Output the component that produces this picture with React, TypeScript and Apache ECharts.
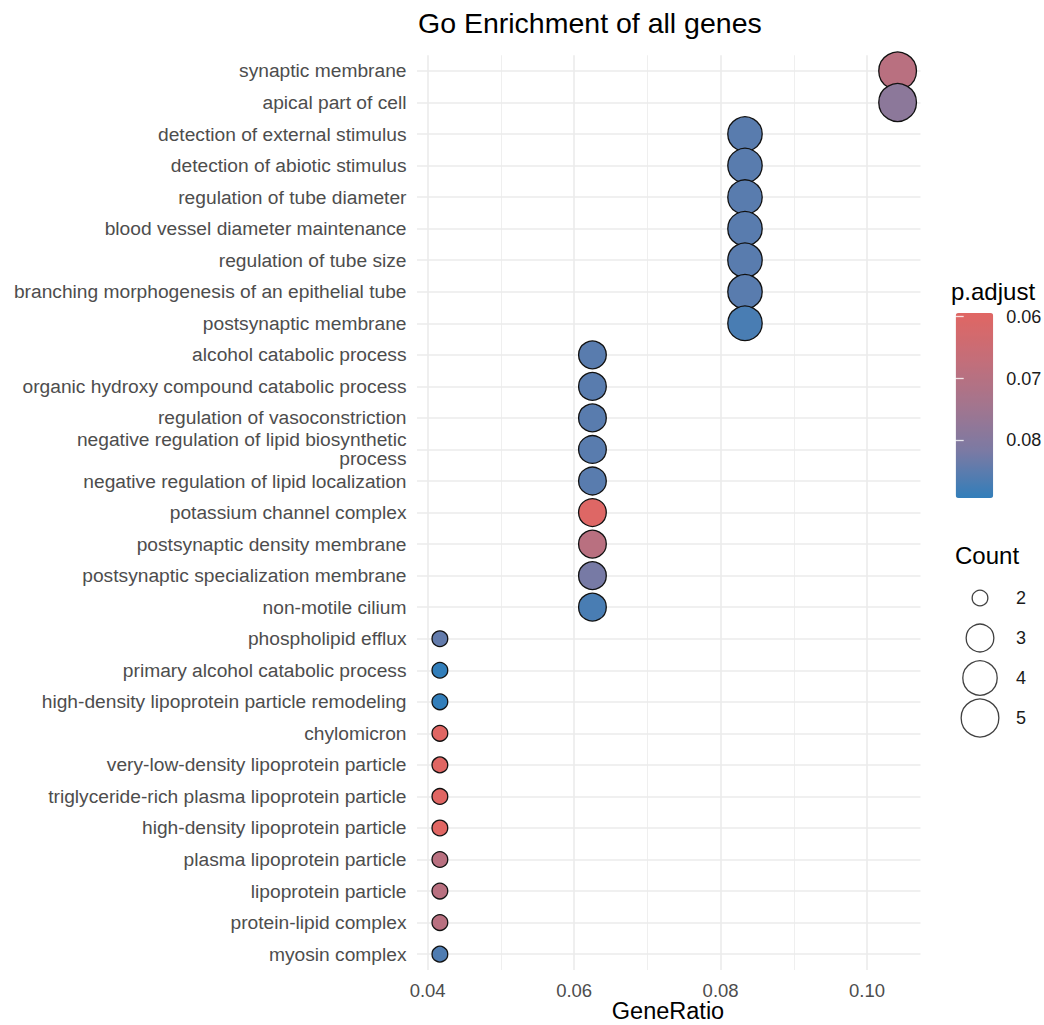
import React, { useEffect, useRef } from 'react';
import * as echarts from 'echarts';

const terms: string[] = [
  'synaptic membrane',
  'apical part of cell',
  'detection of external stimulus',
  'detection of abiotic stimulus',
  'regulation of tube diameter',
  'blood vessel diameter maintenance',
  'regulation of tube size',
  'branching morphogenesis of an epithelial tube',
  'postsynaptic membrane',
  'alcohol catabolic process',
  'organic hydroxy compound catabolic process',
  'regulation of vasoconstriction',
  'negative regulation of lipid biosynthetic\nprocess',
  'negative regulation of lipid localization',
  'potassium channel complex',
  'postsynaptic density membrane',
  'postsynaptic specialization membrane',
  'non-motile cilium',
  'phospholipid efflux',
  'primary alcohol catabolic process',
  'high-density lipoprotein particle remodeling',
  'chylomicron',
  'very-low-density lipoprotein particle',
  'triglyceride-rich plasma lipoprotein particle',
  'high-density lipoprotein particle',
  'plasma lipoprotein particle',
  'lipoprotein particle',
  'protein-lipid complex',
  'myosin complex',
];

const geneRatio: number[] = [
  0.10417, 0.10417,
  0.08333, 0.08333, 0.08333, 0.08333, 0.08333, 0.08333, 0.08333,
  0.0625, 0.0625, 0.0625, 0.0625, 0.0625, 0.0625, 0.0625, 0.0625, 0.0625,
  0.04167, 0.04167, 0.04167, 0.04167, 0.04167, 0.04167, 0.04167, 0.04167, 0.04167, 0.04167, 0.04167,
];

const counts: number[] = [
  5, 5,
  4, 4, 4, 4, 4, 4, 4,
  3, 3, 3, 3, 3, 3, 3, 3, 3,
  2, 2, 2, 2, 2, 2, 2, 2, 2, 2, 2,
];

const pAdjust: number[] = [
  0.0693, 0.0785,
  0.0852, 0.0852, 0.0852, 0.0852, 0.0852, 0.0852, 0.0869,
  0.0852, 0.0852, 0.0852, 0.0852, 0.0852, 0.0600, 0.0693, 0.0821, 0.0869,
  0.0842, 0.0893, 0.0893, 0.0594, 0.0594, 0.0594, 0.0594, 0.0693, 0.0693, 0.0693, 0.0863,
];

const xTickValues: number[] = [0.04, 0.06, 0.08, 0.1];
const xMinorValues: number[] = [0.05, 0.07, 0.09];
const colorbarTicks: number[] = [0.06, 0.07, 0.08];
const countLevels: number[] = [2, 3, 4, 5];

const sizeByCount: Record<number, number> = { 2: 15.7, 3: 27.7, 4: 34.4, 5: 37.7 };

// low (red) -> high (blue), stops approximating a Lab-space gradient
const gradientColors: string[] = ['#e06663', '#c46e79', '#a3758e', '#7a7aa4', '#327eba'];

const FONT = '"Liberation Sans", Arial, Helvetica, sans-serif';

export default function App() {
  const ref = useRef<HTMLDivElement>(null);

  useEffect(() => {
    if (!ref.current) return;
    const chart = echarts.init(ref.current, null, { renderer: 'svg' });

    const gMin = Math.min(...geneRatio);
    const gMax = Math.max(...geneRatio);
    const gPad = (gMax - gMin) * 0.05;
    const pMin = Math.min(...pAdjust);
    const pMax = Math.max(...pAdjust);

    const data = terms.map((t, i) => [geneRatio[i], t, pAdjust[i], counts[i]]);

    const gridLines: any[] = [
      ...xMinorValues.map((v) => ({ xAxis: v, lineStyle: { color: '#efefef', width: 1.1, type: 'solid' } })),
      ...xTickValues.map((v) => ({ xAxis: v, lineStyle: { color: '#ebebeb', width: 1.6, type: 'solid' } })),
      ...terms.map((t) => ({ yAxis: t, lineStyle: { color: '#ebebeb', width: 1.6, type: 'solid' } })),
    ];

    const tickStyle = { color: 'rgba(255,255,255,0.8)', width: 1.3 };

    const option: any = {
      animation: false,
      backgroundColor: '#ffffff',
      textStyle: { fontFamily: FONT },
      title: {
        text: 'Go Enrichment of all genes',
        left: 418,
        top: 8,
        padding: 0,
        textStyle: { fontFamily: FONT, fontSize: 28.5, fontWeight: 'normal', color: '#000000' },
      },
      grid: [
        { left: 417, top: 55.2, width: 503.5, height: 914.7, containLabel: false, outerBoundsMode: 'none' },
        { left: 955.7, top: 313, width: 37.5, height: 185, containLabel: false, outerBoundsMode: 'none' },
        { left: 960, top: 578, width: 40, height: 160, containLabel: false, outerBoundsMode: 'none' },
      ],
      xAxis: [
        {
          gridIndex: 0,
          type: 'value',
          min: gMin - gPad,
          max: gMax + gPad,
          axisLine: { show: false },
          axisTick: { show: false },
          splitLine: { show: false },
          axisLabel: {
            customValues: xTickValues,
            formatter: (v: number) => v.toFixed(2),
            color: '#4d4d4d',
            fontSize: 18.5,
            fontFamily: FONT,
            margin: 11,
          },
        },
        { gridIndex: 1, type: 'value', show: false, min: 0, max: 1 },
        { gridIndex: 2, type: 'value', show: false, min: -1, max: 1 },
      ],
      yAxis: [
        {
          gridIndex: 0,
          type: 'category',
          data: terms,
          inverse: true,
          axisLine: { show: false },
          axisTick: { show: false },
          splitLine: { show: false },
          axisLabel: {
            color: '#4d4d4d',
            fontSize: 19.2,
            fontFamily: FONT,
            margin: 10.5,
            lineHeight: 19,
            interval: 0,
          },
        },
        {
          gridIndex: 1,
          type: 'value',
          min: pMin,
          max: pMax,
          inverse: true,
          position: 'right',
          z: 10,
          axisLine: { show: false },
          splitLine: { show: false },
          axisTick: { show: true, inside: true, length: 8, customValues: colorbarTicks, lineStyle: tickStyle },
          axisLabel: {
            customValues: colorbarTicks,
            formatter: (v: number) => v.toFixed(2),
            color: '#1a1a1a',
            fontSize: 18,
            fontFamily: FONT,
            margin: 13,
          },
        },
        {
          gridIndex: 1,
          type: 'value',
          min: pMin,
          max: pMax,
          inverse: true,
          position: 'left',
          z: 10,
          axisLine: { show: false },
          splitLine: { show: false },
          axisLabel: { show: false },
          axisTick: { show: true, inside: true, length: 8, customValues: colorbarTicks, lineStyle: tickStyle },
        },
        {
          gridIndex: 2,
          type: 'category',
          data: countLevels.map(String),
          inverse: true,
          position: 'right',
          axisLine: { show: false },
          axisTick: { show: false },
          splitLine: { show: false },
          axisLabel: { color: '#1a1a1a', fontSize: 18, fontFamily: FONT, margin: 16 },
        },
      ],
      visualMap: [
        {
          type: 'continuous',
          seriesIndex: 0,
          dimension: 2,
          min: pMin,
          max: pMax,
          inverse: true,
          orient: 'vertical',
          left: 955.7,
          top: 313,
          itemWidth: 37.5,
          itemHeight: 185,
          padding: 0,
          calculable: false,
          hoverLink: false,
          inRange: { color: gradientColors },
        },
      ],
      graphic: [
        {
          type: 'text',
          left: 951,
          top: 279,
          style: { text: 'p.adjust', fontSize: 24, fontFamily: FONT, fill: '#000000' },
        },
        {
          type: 'text',
          left: 955,
          top: 543,
          style: { text: 'Count', fontSize: 24, fontFamily: FONT, fill: '#000000' },
        },
        {
          type: 'text',
          x: 668,
          y: 1011,
          style: {
            text: 'GeneRatio',
            fontSize: 23.5,
            fontFamily: FONT,
            fill: '#000000',
            align: 'center',
            verticalAlign: 'middle',
          },
        },
      ],
      series: [
        {
          type: 'scatter',
          xAxisIndex: 0,
          yAxisIndex: 0,
          z: 3,
          data,
          encode: { x: 0, y: 1 },
          symbolSize: (val: any[]) => sizeByCount[val[3]],
          itemStyle: { borderColor: '#111111', borderWidth: 1.3, opacity: 1 },
          emphasis: { disabled: true },
        },
        {
          type: 'scatter',
          xAxisIndex: 0,
          yAxisIndex: 0,
          z: 1,
          data: [],
          silent: true,
          markLine: {
            silent: true,
            z: 1,
            symbol: ['none', 'none'],
            label: { show: false },
            emphasis: { disabled: true },
            lineStyle: { type: 'solid' },
            data: gridLines,
          },
        },
        {
          type: 'scatter',
          xAxisIndex: 2,
          yAxisIndex: 3,
          z: 3,
          data: countLevels.map((c) => [0, String(c), c]),
          symbolSize: (val: any[]) => sizeByCount[val[2]],
          itemStyle: { color: '#ffffff', borderColor: '#111111', borderWidth: 1.3 },
          emphasis: { disabled: true },
        },
      ],
    };

    chart.setOption(option);
    return () => chart.dispose();
  }, []);

  return (
    <div
      ref={ref}
      style={{ position: 'fixed', left: 0, top: 0, width: 1044, height: 1025, background: '#ffffff' }}
    />
  );
}
